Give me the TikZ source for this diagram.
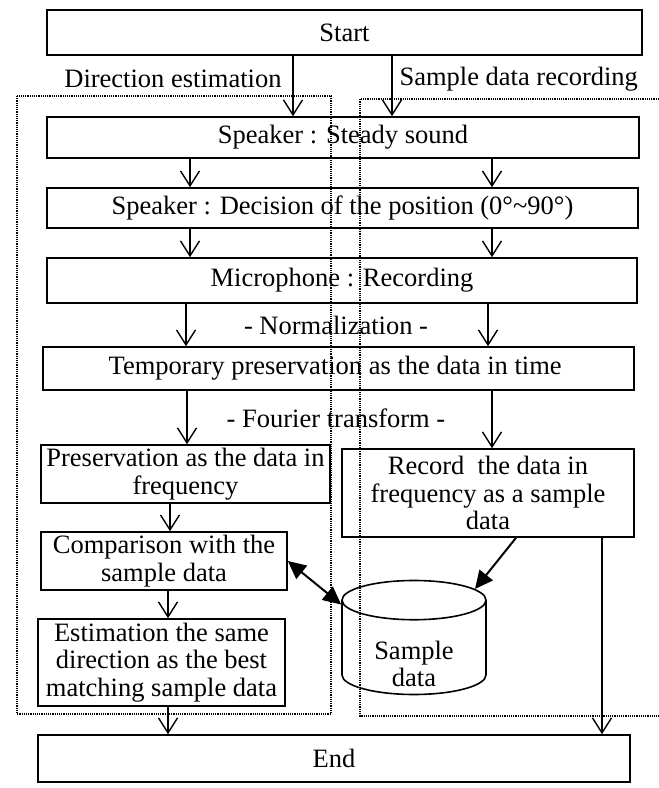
\documentclass[tikz,border=0pt]{standalone}
\usepackage{fontspec}
\setmainfont{Liberation Serif}
\usetikzlibrary{arrows.meta,shapes.geometric}

\begin{document}
\begin{tikzpicture}[x=1pt,y=-1pt,
	box/.style={draw, line width=1.6pt, inner sep=2pt, align=center, font=\flowfont},
	arr/.style={line width=1.4pt, -{Straight Barb[length=15pt,width=19pt,line width=1.4pt]}},
	heavy/.style={line width=2pt, -{Triangle[length=18pt,width=17pt]}},
	region/.style={line width=1.2pt, densely dotted}]
	\newcommand{\flowfont}{\fontsize{26.5}{27.5}\selectfont}
	\useasboundingbox (0,0) rectangle (659,788);
	% the two dotted regions
	\draw[region] (17,96) rectangle (331,714);
	\draw[region] (659,99) -- (360,99) -- (360,716) -- (659,716);
	% full width steps
	\foreach \name/\x/\y/\w/\h/\txt in
	{
		start/344.5/32.5/595/45/{Start},
		steady/343/137.5/592/41/{Speaker : Steady sound},
		decision/342.5/208/591/40/{Speaker : Decision of the position (0°\textasciitilde90°)},
		mic/342/280.5/590/45/{Microphone : Recording},
		temp/338.5/368.5/591/43/{Temporary preservation as the data in time}
	}
	{
		\node[box, minimum width=\w pt, minimum height=\h pt] (\name) at (\x,\y) {\txt};
	}
	\node[font=\flowfont, anchor=east] (dirlabel) at (285,79) {Direction estimation};
	\node[font=\flowfont, anchor=west] (reclabel) at (396,79) {Sample data recording};
	\node[font=\flowfont] (norm) at (336,325) {- Normalization -};
	\node[font=\flowfont] (fourier) at (336,418) {- Fourier transform -};
	% split part
	\node[box, minimum width=289pt, minimum height=58pt] (pres) at (185.5,474) {Preservation as the data in\\frequency};
	\node[box, minimum width=292pt, minimum height=88pt] (record) at (488,493) {Record\ \ the data in\\frequency as a sample\\data};
	\node[box, minimum width=246pt, minimum height=58pt] (comp) at (164,561) {Comparison with the\\sample data};
	\node[box, minimum width=247pt, minimum height=87pt] (est) at (161.5,662.5) {Estimation the same\\direction as the best\\matching sample data};
	% database drum, its text set a bit lower on its own
	\node[box, cylinder, shape border rotate=90, aspect=0.47, minimum width=144pt, minimum height=114pt] (db) at (414,650) {\phantom{Sample}\\\phantom{data}};
	\node[font=\flowfont, align=center] (dbtext) at (414,664) {Sample\\data};
	\node[box, minimum width=592pt, minimum height=47pt] (end) at (334,758.5) {End};
	% arrows
	\foreach \a/\b/\xl/\xr in {start/steady/293/392, steady/decision/190/492, decision/mic/190/492, mic/temp/186/488, temp/pres/187/0, temp/record/0/492}
	{
		\ifnum\xl>0 \draw[arr] (\a.south -| \xl,0) -- (\b.north -| \xl,0); \fi
		\ifnum\xr>0 \draw[arr] (\a.south -| \xr,0) -- (\b.north -| \xr,0); \fi
	}
	\draw[arr] (pres.south -| 170,0) -- (comp.north -| 170,0);
	\draw[arr] (comp.south -| 168,0) -- (est.north -| 168,0);
	\draw[arr] (est.south -| 168,0) -- (end.north -| 168,0);
	\draw[arr] (record.south -| 602,0) -- (end.north -| 602,0);
	\draw[heavy] (record.south -| 516,0) -- (db.45);
	\draw[heavy, {Triangle[length=18pt,width=17pt]}-{Triangle[length=18pt,width=17pt]}] (comp.east) -- (db.148);
\end{tikzpicture}
\end{document}
